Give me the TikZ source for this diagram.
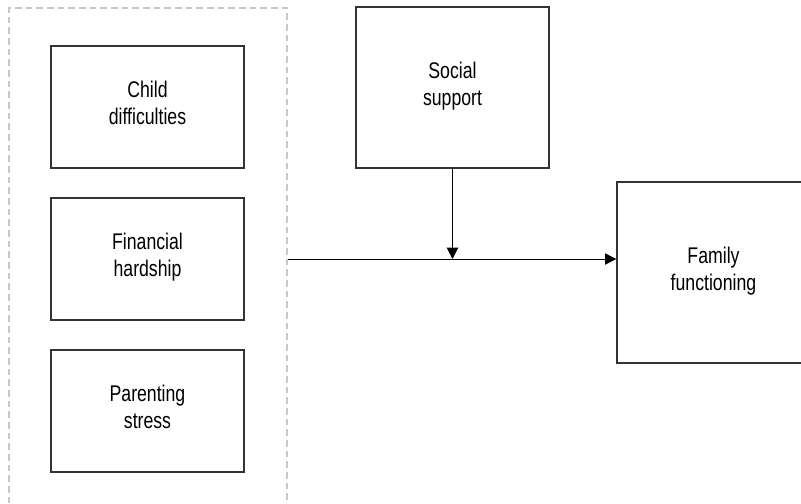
\documentclass[tikz,border=0pt]{standalone}
\usepackage{fontspec}
\setmainfont{Liberation Sans}[FakeStretch=0.78]
\usetikzlibrary{arrows.meta}

\begin{document}
\begin{tikzpicture}[x=0.75pt,y=0.75pt,yscale=-1,xscale=1,
  box/.style={draw={rgb, 255:red, 51; green, 51; blue, 51}, line width=1pt, align=center, inner sep=0pt, text depth=6pt, minimum width=144.75pt, font=\fontsize{17}{20.5}\selectfont},
  grp/.style={draw={rgb, 255:red, 200; green, 200; blue, 200}, line width=1pt, dash pattern={on 5pt off 3pt}, inner sep=0pt, minimum width=208.5pt, minimum height=376.5pt},
  link/.style={line width=0.75pt, -{Triangle[length=8.5pt,width=8.5pt]}}]
\useasboundingbox (0,0) rectangle (801,504);
\clip (0,0) rectangle (801,504);

%Group of predictors
\node (grp) [grp] at (148,259) {};

%Predictors
\node (child) [box, minimum height=91.5pt] at (147.5,107) {Child\\difficulties};
\node (fin) [box, minimum height=91.5pt] at (147.5,259) {Financial\\hardship};
\node (par) [box, minimum height=91.5pt] at (147.5,411) {Parenting\\stress};

%Moderator and outcome
\node (soc) [box, minimum height=120.75pt] at (452.5,87.5) {Social\\support};
\node (fam) [box, minimum height=135.75pt] at (713.5,272.5) {Family\\functioning};

%Paths
\draw [link] (grp.east |- fin) -- (fam.west |- fin);
\draw [link] (soc.south) -- (soc.south |- fin);

\end{tikzpicture}
\end{document}
